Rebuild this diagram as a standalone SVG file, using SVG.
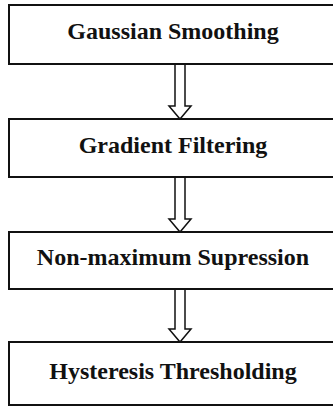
<svg xmlns="http://www.w3.org/2000/svg" width="333" height="407" viewBox="0 0 333 407">
<style>
.box{fill:#fff;stroke:#111;stroke-width:2}
.lbl{font-family:"Liberation Serif","Times New Roman",serif;font-weight:bold;font-size:24px;fill:#111;text-anchor:middle}
.arr{fill:#fff;stroke:#111;stroke-width:1.5;stroke-linejoin:miter}
</style>
<rect width="333" height="407" fill="#fff"/>
<g id="connectors">
<path class="arr" d="M175,64 V106 H169 L180,119 L191,106 H185 V64"/>
<path class="arr" d="M175,177 V219 H169 L180,232 L191,219 H185 V177"/>
<path class="arr" d="M175,289 V329 H169 L180,342 L191,329 H185 V289"/>
</g>
<g id="n1"><rect class="box" x="9" y="5" width="340" height="59"/><text class="lbl" x="173" y="39">Gaussian Smoothing</text></g>
<g id="n2"><rect class="box" x="9" y="119" width="340" height="58"/><text class="lbl" x="173" y="153">Gradient Filtering</text></g>
<g id="n3"><rect class="box" x="9" y="232" width="340" height="57"/><text class="lbl" x="173" y="265">Non-maximum Supression</text></g>
<g id="n4"><rect class="box" x="9" y="342" width="340" height="63"/><text class="lbl" x="173" y="379">Hysteresis Thresholding</text></g>
</svg>
